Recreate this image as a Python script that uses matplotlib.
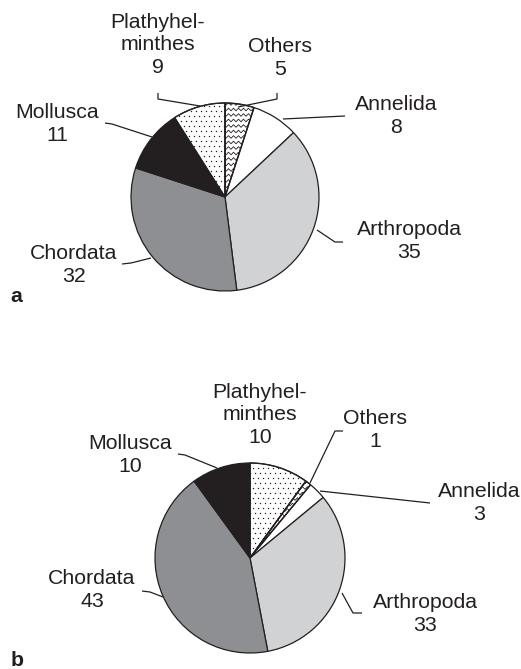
import numpy as np
import matplotlib.pyplot as plt
from matplotlib.patches import PathPatch

plt.rcParams['font.family'] = ['Liberation Sans', 'DejaVu Sans']

W, H = 521, 669

# panel a: clockwise from 12 o'clock
labels_a = ['Others', 'Annelida', 'Arthropoda', 'Chordata', 'Mollusca', 'Plathyhel-\nminthes']
values_a = [5, 8, 35, 32, 11, 9]

# panel b: clockwise from 12 o'clock
labels_b = ['Plathyhel-\nminthes', 'Others', 'Annelida', 'Arthropoda', 'Chordata', 'Mollusca']
values_b = [10, 1, 3, 33, 43, 10]

INK = '#231f20'
fills = {
    'Others': 'white',
    'Annelida': 'white',
    'Arthropoda': '#d1d2d4',
    'Chordata': '#8e8f92',
    'Mollusca': INK,
    'Plathyhel-\nminthes': 'white',
}
pattern = {'Others': 'zigzag', 'Plathyhel-\nminthes': 'dots'}


def fy(y):
    return H - y


fig = plt.figure(figsize=(W / 100, H / 100), dpi=100)
ax = fig.add_axes([0, 0, 1, 1])


def zigzag(ax, w, cx, cy, r):
    xs = np.arange(cx - r, cx + r + 5, 2.5)
    for y0 in np.arange(cy - r, cy + r, 5.5):
        ys = y0 + np.where(np.arange(len(xs)) % 2 == 0, -1.3, 1.3)
        ln, = ax.plot(xs, ys, color=INK, lw=0.6, zorder=2)
        ln.set_clip_path(w)


def dots(ax, w, cx, cy, r):
    pts = []
    for k, y0 in enumerate(np.arange(cy - r, cy + r, 5.0)):
        off = 2.5 if k % 2 else 0
        for x0 in np.arange(cx - r + off, cx + r, 5.0):
            pts.append((x0, y0))
    pts = np.array(pts)
    sc = ax.scatter(pts[:, 0], pts[:, 1], s=1.0, color=INK, linewidths=0, zorder=2)
    sc.set_clip_path(w)


def draw_pie(ax, labels, values, center, radius, text_pos, leaders):
    cx, cy = center[0], fy(center[1])
    wedges, _ = ax.pie(values, colors=[fills[l] for l in labels], startangle=90,
                       counterclock=False, center=(cx, cy), radius=radius,
                       wedgeprops=dict(edgecolor=INK, linewidth=0.9))
    for w, lab in zip(wedges, labels):
        if pattern.get(lab) == 'zigzag':
            zigzag(ax, w, cx, cy, radius)
        elif pattern.get(lab) == 'dots':
            dots(ax, w, cx, cy, radius)
        else:
            continue
        # outline again on top of the pattern
        ax.add_patch(PathPatch(w.get_path(), fill=False, edgecolor=INK,
                               linewidth=0.9, zorder=3))
    for lab, v in zip(labels, values):
        tx, ty = text_pos[lab]
        ax.text(tx, fy(ty), lab + '\n' + str(v), ha='center', va='center',
                fontsize=15.3, color=INK, linespacing=1.22)
        pts = leaders.get(lab)
        if pts:
            px = [p[0] for p in pts]
            py = [fy(p[1]) for p in pts]
            ax.plot(px, py, color=INK, lw=0.9, solid_capstyle='butt')


pos_a = {
    'Others': (280, 58),
    'Annelida': (396, 116),
    'Arthropoda': (409, 241),
    'Chordata': (74, 265),
    'Mollusca': (57, 124),
    'Plathyhel-\nminthes': (158, 45),
}
lead_a = {
    'Others': [(277, 93), (277, 99), (238, 107)],
    'Annelida': [(283, 119), (345, 116)],
    'Arthropoda': [(317, 230), (335, 242), (343, 242)],
    'Chordata': [(122, 264), (131, 263), (151, 258)],
    'Mollusca': [(105, 123), (112, 124), (152, 137)],
    'Plathyhel-\nminthes': [(158, 93), (158, 99), (200, 106)],
}
pos_b = {
    'Plathyhel-\nminthes': (260, 415),
    'Others': (375, 430),
    'Annelida': (479, 503),
    'Arthropoda': (425, 614),
    'Chordata': (92, 590),
    'Mollusca': (130, 455),
}
lead_b = {
    'Others': [(343, 431), (335, 431), (310, 483)],
    'Annelida': [(320, 491), (430, 503)],
    'Arthropoda': [(342, 593), (353, 613), (362, 613)],
    'Chordata': [(142, 591), (150, 592), (163, 597)],
    'Mollusca': [(178, 454), (185, 455), (217, 468)],
}

draw_pie(ax, labels_a, values_a, (225, 197), 94, pos_a, lead_a)
draw_pie(ax, labels_b, values_b, (250, 558), 95, pos_b, lead_b)

ax.text(16, fy(296), 'a', ha='center', va='center', fontsize=15.3, fontweight='bold', color=INK)
ax.text(17, fy(660), 'b', ha='center', va='center', fontsize=15.3, fontweight='bold', color=INK)

ax.set_xlim(0, W)
ax.set_ylim(0, H)
ax.set_aspect('equal')
ax.axis('off')

fig.savefig('out.png', dpi=100)
